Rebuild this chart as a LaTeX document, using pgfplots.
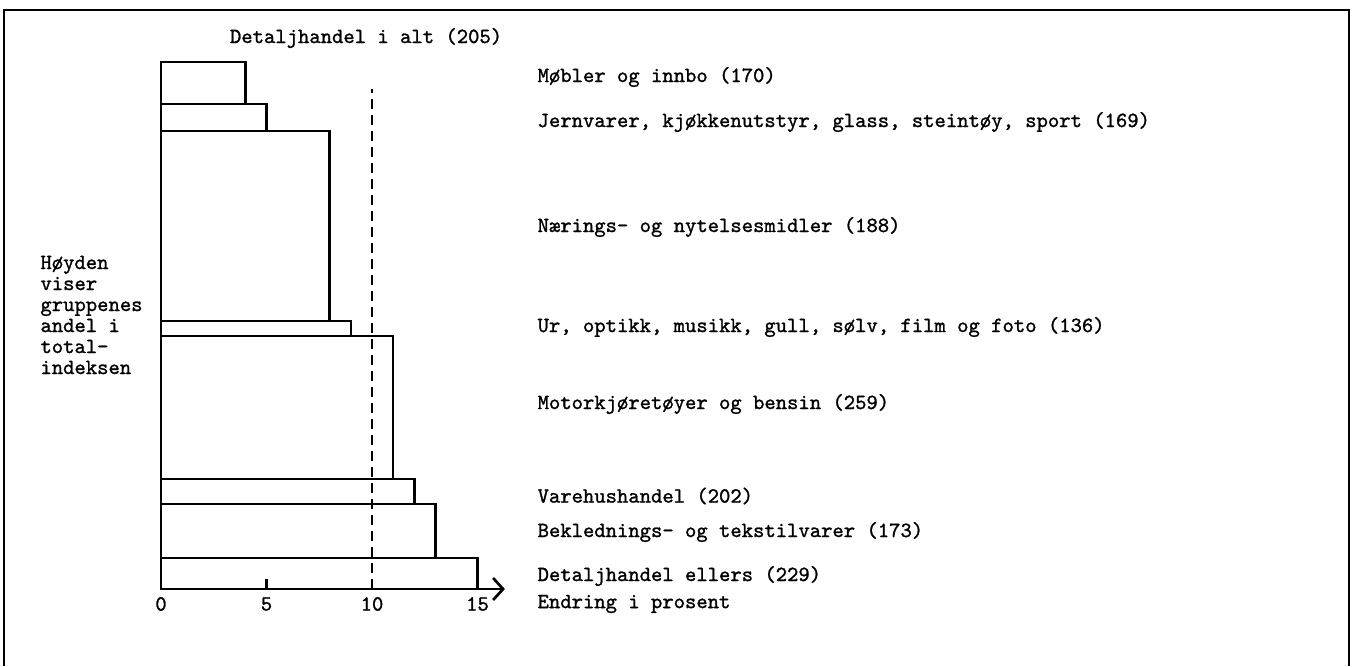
\documentclass[border=0pt]{standalone}
\usepackage{pgfplots}
\pgfplotsset{compat=1.18}
\usepackage{fontspec}
\setmainfont{Latin Modern Mono}[FakeBold=1.2]
\usetikzlibrary{arrows.meta}
\begin{document}
\fontsize{10.8}{10.5}\selectfont
\begin{tikzpicture}
\begin{axis}[hide axis, scale only axis, width=677pt, height=333pt,
  xmin=-7.630, xmax=56.54, ymin=-77, ymax=589, clip=false]
% bars: x = percent change, y = cumulative share (stacked)
\addplot[draw=black, fill=white, line width=1.35pt] coordinates {(0,0) (15,0) (15,31) (0,31)} --cycle;
\addplot[draw=black, fill=white, line width=1.35pt] coordinates {(0,31) (13,31) (13,85) (0,85)} --cycle;
\addplot[draw=black, fill=white, line width=1.35pt] coordinates {(0,85) (12,85) (12,110) (0,110)} --cycle;
\addplot[draw=black, fill=white, line width=1.35pt] coordinates {(0,110) (11,110) (11,253) (0,253)} --cycle;
\addplot[draw=black, fill=white, line width=1.35pt] coordinates {(0,253) (9,253) (9,268) (0,268)} --cycle;
\addplot[draw=black, fill=white, line width=1.35pt] coordinates {(0,268) (8,268) (8,458) (0,458)} --cycle;
\addplot[draw=black, fill=white, line width=1.35pt] coordinates {(0,458) (5,458) (5,485) (0,485)} --cycle;
\addplot[draw=black, fill=white, line width=1.35pt] coordinates {(0,485) (4,485) (4,527) (0,527)} --cycle;
% total line
\addplot[black, line width=1.35pt, dash pattern=on 5pt off 3pt] coordinates {(10,0) (10,500)};
% axis
\draw[line width=1.35pt, -{Straight Barb[length=5pt,width=11pt,line width=1.35pt]}] (axis cs:0,0) -- (axis cs:16.3,0);
\draw[line width=1.35pt] (axis cs:5,0) -- (axis cs:5,10);
\node[anchor=center] at (axis cs:0,-15) {0};
\node[anchor=center] at (axis cs:5,-15) {5};
\node[anchor=center] at (axis cs:10,-15) {10};
\node[anchor=center] at (axis cs:15,-15) {15};
\node[anchor=west] at (axis cs:17.49,-15) {Endring i prosent};
% labels
\node[anchor=west] at (axis cs:17.49,512) {Møbler og innbo (170)};
\node[anchor=west] at (axis cs:17.49,467) {Jernvarer, kjøkkenutstyr, glass, steintøy, sport (169)};
\node[anchor=west] at (axis cs:17.49,362) {Nærings- og nytelsesmidler (188)};
\node[anchor=west] at (axis cs:17.49,262) {Ur, optikk, musikk, gull, sølv, film og foto (136)};
\node[anchor=west] at (axis cs:17.49,185) {Motorkjøretøyer og bensin (259)};
\node[anchor=west] at (axis cs:17.49,93) {Varehushandel (202)};
\node[anchor=west] at (axis cs:17.49,57) {Beklednings- og tekstilvarer (173)};
\node[anchor=west] at (axis cs:17.49,13) {Detaljhandel ellers (229)};
\node[anchor=center] at (axis cs:9.72,551) {Detaljhandel i alt (205)};
\node[anchor=west, align=left, inner sep=0pt] at (axis cs:-5.73,274) {Høyden\\viser\\gruppenes\\andel i\\total-\\indeksen};
% frame
\draw[line width=1.2pt] (axis cs:-7.44,-77) -- (axis cs:-7.44,579) -- (axis cs:56.3,579) -- (axis cs:56.3,-77);
\end{axis}
\pgfresetboundingbox
\useasboundingbox (current axis.south west) rectangle (current axis.north east);
\end{tikzpicture}
\end{document}
